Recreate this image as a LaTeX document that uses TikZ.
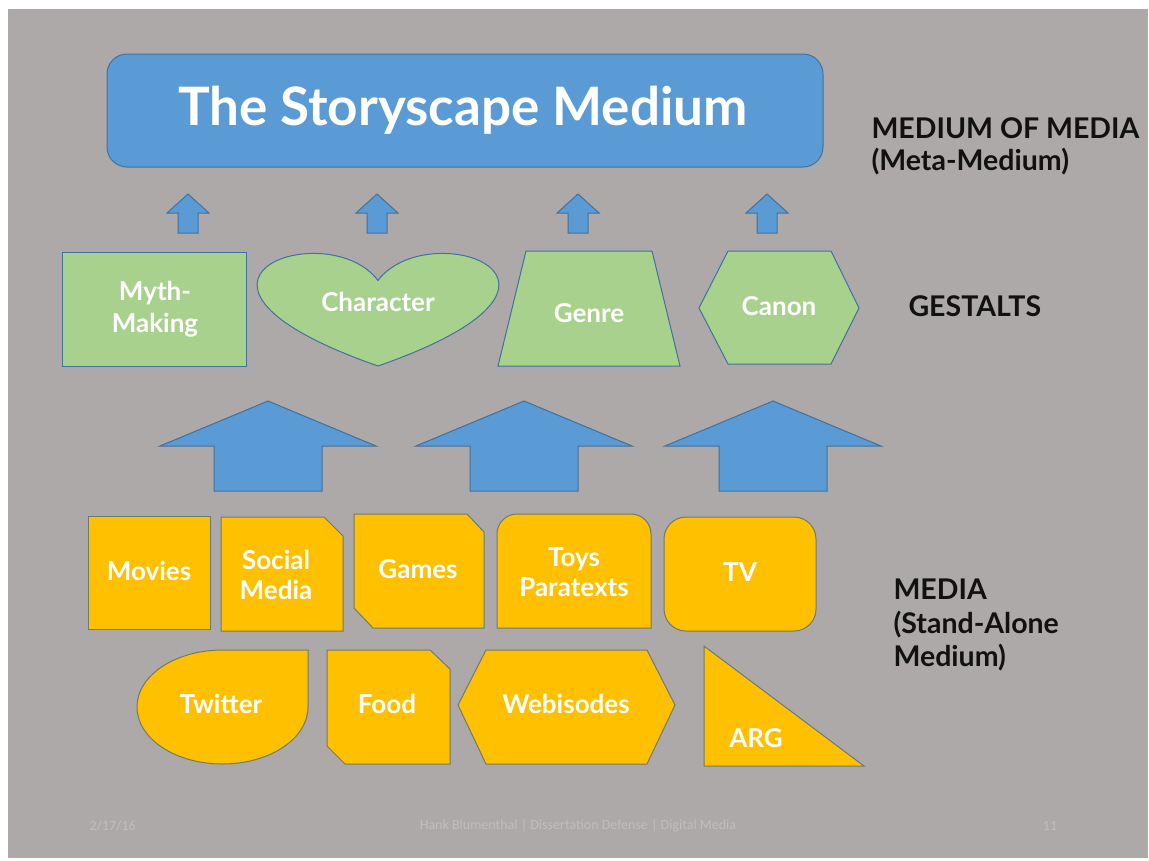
\documentclass[tikz,border=0pt]{standalone}
\usepackage{fontspec}
\setmainfont{Lato}
\newfontfamily\footfont{Carlito}
\definecolor{slide}{HTML}{ADA9A8}
\definecolor{mblue}{HTML}{5B9BD5}
\definecolor{edgeblue}{HTML}{41719C}
\definecolor{leaf}{HTML}{A9D18E}
\definecolor{gold}{HTML}{FFC000}
\definecolor{goldedge}{HTML}{6F7A6E}
\definecolor{ink}{HTML}{111111}
\definecolor{footgray}{HTML}{C2BEBD}
\tikzset{
  bluebox/.style={draw=edgeblue, line width=1pt, fill=mblue},
  gestalt/.style={draw=edgeblue, line width=1pt, fill=leaf},
  medium/.style={draw=goldedge, line width=1pt, fill=gold},
  lab/.style={text=white, font=\bfseries\fontsize{26}{30}\selectfont, align=center},
  side/.style={text=ink, font=\bfseries\fontsize{28.5}{33}\selectfont, align=left, anchor=west},
  foot/.style={text=footgray, font=\footfont\fontsize{14}{16}\selectfont}
}
\begin{document}
\begin{tikzpicture}[x=1pt, y=-1pt]
  \useasboundingbox (0,0) rectangle (1149,860);
  \fill[white] (0,0) rectangle (1149,860);
  \fill[slide] (8,9) rectangle (1148,858);

  % Meta-medium
  \draw[bluebox, rounded corners=20pt] (107,54) rectangle (823,167);
  \node[lab, font=\bfseries\fontsize{53}{60}\selectfont] (title) at (463,110) {The Storyscape Medium};

  % Small arrows up to the meta-medium
  \foreach \x in {188,377,578,767}
    \draw[bluebox] (\x,194) -- (\x+21,213) -- (\x+10,213) -- (\x+10,233)
      -- (\x-10,233) -- (\x-10,213) -- (\x-21,213) -- cycle;

  % Gestalts
  \draw[gestalt] (62,252) rectangle (246,366);
  \node[lab, font=\bfseries\fontsize{26}{32}\selectfont] (myth) at (155,309) {Myth-\\Making};

  \draw[gestalt] (378,280.5) .. controls (428,214) and (623,280.5) .. (378,366)
    .. controls (133,280.5) and (328,214) .. (378,280.5) -- cycle;
  \node[lab] (character) at (378,302) {Character};

  \draw[gestalt] (526,251) -- (652,251) -- (680,366) -- (498,366) -- cycle;
  \node[lab] (genre) at (589,313) {Genre};

  \draw[gestalt] (699,308) -- (728,251) -- (831,251) -- (859,308) -- (831,364) -- (728,364) -- cycle;
  \node[lab] (canon) at (779,306) {Canon};

  % Big arrows up to the gestalts
  \foreach \x in {268,524,773}
    \draw[bluebox] (\x,401) -- (\x+108,446) -- (\x+54,446) -- (\x+54,491)
      -- (\x-54,491) -- (\x-54,446) -- (\x-108,446) -- cycle;

  % Media, first row
  \draw[medium] (88,516) rectangle (210,629);
  \node[lab] (movies) at (149,571) {Movies};

  \draw[medium] (221,517) -- (324,517) -- (343,536) -- (343,631) -- (221,631) -- cycle;
  \node[lab] (social) at (276,575) {Social\\Media};

  \draw[medium] (354,514) -- (467,514) -- (484,532) -- (484,628) -- (373,628) -- (354,608) -- cycle;
  \node[lab] (games) at (418,569) {Games};

  \draw[medium] (497,628) -- (497,534) .. controls (497,523) and (506,514) .. (517,514)
    -- (631,514) .. controls (642,514) and (651,523) .. (651,534) -- (651,628) -- cycle;
  \node[lab] (toys) at (574,572) {Toys\\Paratexts};

  \draw[medium, rounded corners=22pt] (664,517) rectangle (816,631);
  \node[lab] (tv) at (740,572) {TV};

  % Media, second row
  \draw[medium] (308,650) -- (308,707) .. controls (308,738.5) and (269.8,764) .. (222.5,764)
    .. controls (175.3,764) and (137,738.5) .. (137,707)
    .. controls (137,675.5) and (175.3,650) .. (222.5,650) -- cycle;
  \node[lab] (twitter) at (221,704) {Twitter};

  \draw[medium] (327,650) -- (430,650) -- (450,669) -- (450,764) -- (345,764) -- (327,746) -- cycle;
  \node[lab] (food) at (387,704) {Food};

  \draw[medium] (458,705) -- (486,650) -- (647,650) -- (675,705) -- (647,764) -- (486,764) -- cycle;
  \node[lab] (webisodes) at (566,704) {Webisodes};

  \draw[medium] (704,646) -- (864,766) -- (704,766) -- cycle;
  \node[lab] (arg) at (756,738) {ARG};

  % Levels
  \node[side, font=\bfseries\fontsize{28.5}{32}\selectfont] (meta) at (868,146) {MEDIUM OF MEDIA\\(Meta-Medium)};
  \node[side] (gestalts) at (905,306) {GESTALTS};
  \node[side, font=\bfseries\fontsize{28.5}{33.5}\selectfont] (media) at (890,625) {MEDIA\\(Stand-Alone\\Medium)};

  % Footer
  \node[foot, anchor=west] (date) at (86,826) {2/17/16};
  \node[foot] (credit) at (578,826) {Hank Blumenthal | Dissertation Defense | Digital Media};
  \node[foot] (page) at (1050,826) {11};
\end{tikzpicture}
\end{document}
